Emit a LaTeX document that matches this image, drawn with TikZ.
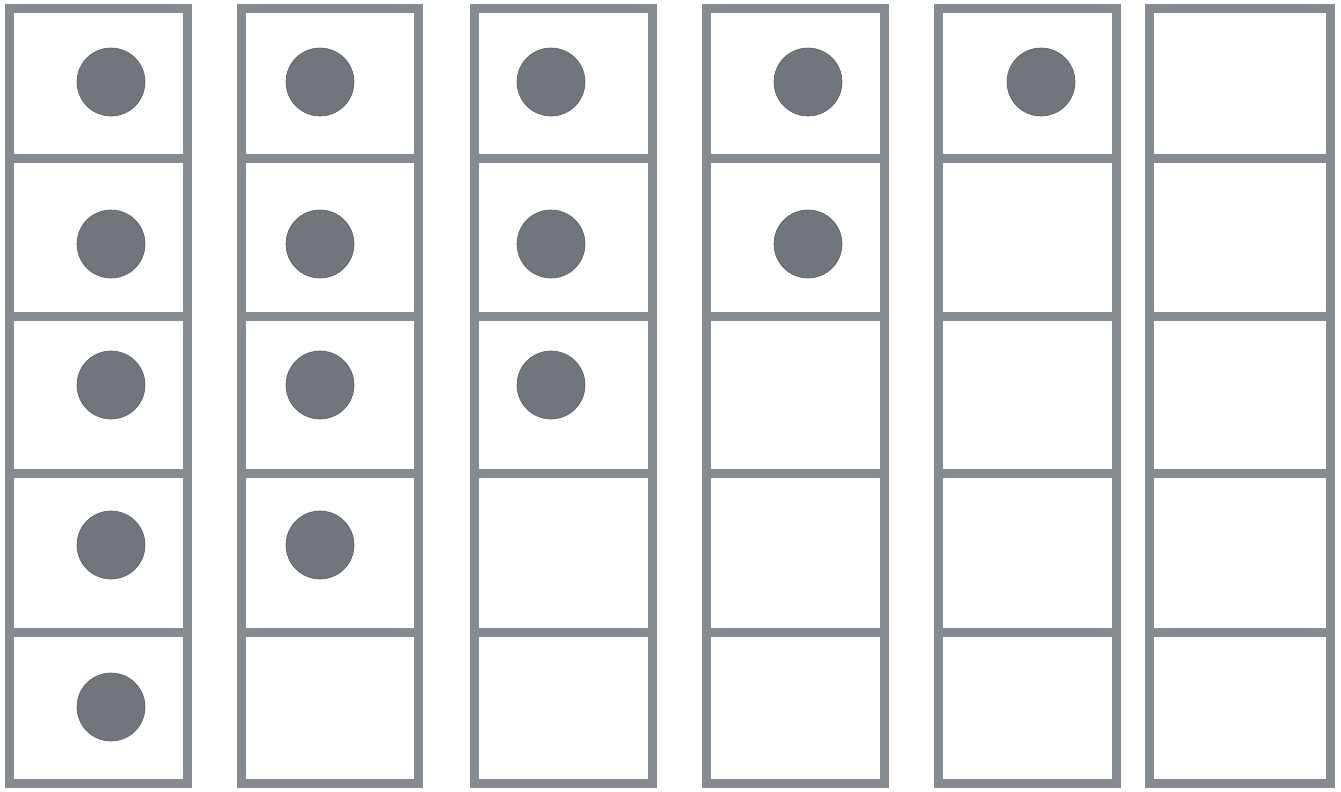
\documentclass[tikz,border=0pt]{standalone}
\definecolor{framegray}{RGB}{134,139,145}
\definecolor{dotgray}{RGB}{112,118,124}
\tikzset{
  cell/.style={draw=framegray, line width=9pt, fill=white, inner sep=0pt, outer sep=0pt},
  counter/.style={circle, fill=dotgray, draw=dotgray!80!black, line width=0.6pt, minimum size=68pt, inner sep=0pt}
}
\begin{document}
\begin{tikzpicture}[x=1pt, y=-1pt]
  \useasboundingbox (0, 0) rectangle (1341, 792);
  \fill[white] (0, 0) rectangle (1341, 792);

  % Six strips of five cells (left edge, width)
  \foreach \c/\xl/\w in {1/9.5/178, 2/241.5/177, 3/474.5/178, 4/706.5/178, 5/938.5/178, 6/1149.5/181} {
    \foreach \r/\yt/\yb in {1/9/158, 2/158/316, 3/316/473, 4/473/632, 5/632/783} {
      \node[cell, minimum width=\w pt, minimum height={(\yb-\yt)*1pt}]
        (c\c-\r) at ({\xl+\w/2}, {(\yt+\yb)/2}) {};
    }
  }

  % Counters: five, four, three, two, one, none
  \foreach \c/\x/\n in {1/111/5, 2/320/4, 3/551/3, 4/808/2, 5/1041/1} {
    \foreach \r/\y in {1/82, 2/244, 3/385, 4/545, 5/707} {
      \ifnum\r>\n\else
        \node[counter] (d\c-\r) at (\x, \y) {};
      \fi
    }
  }
\end{tikzpicture}
\end{document}
